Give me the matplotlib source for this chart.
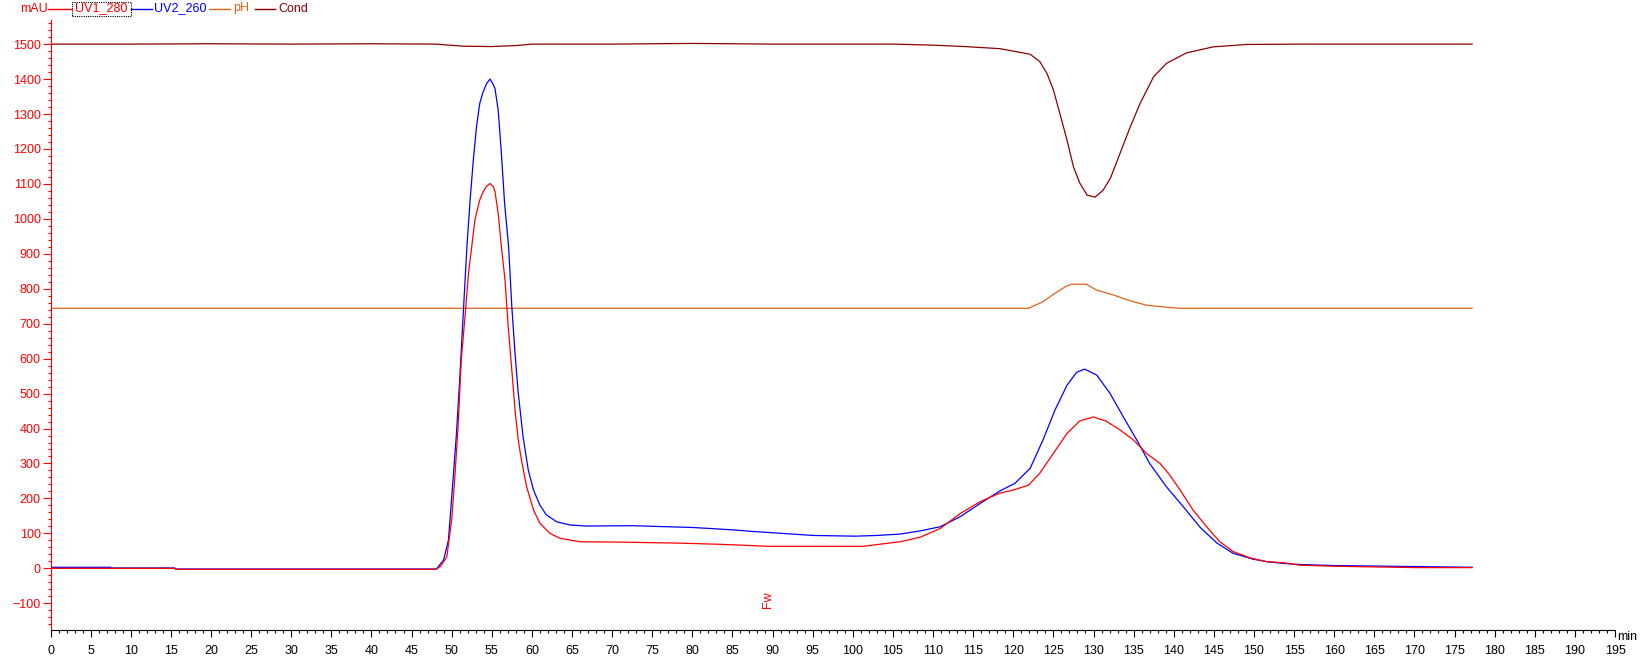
import numpy as np
import matplotlib
matplotlib.use("Agg")
import matplotlib.pyplot as plt
from matplotlib.ticker import MultipleLocator
from matplotlib.lines import Line2D
from matplotlib.patches import Rectangle

plt.rcParams['font.family'] = ['Liberation Sans', 'DejaVu Sans']
plt.rcParams['font.size'] = 9

# UV1_280 (red)
uv1_t = [0, 0.7, 15.5, 15.6, 48.0, 48.6, 49.4, 50.0, 50.4, 50.8, 51.2, 51.7, 52.1, 52.5, 52.9,
         53.5, 53.9, 54.37, 54.8, 55.2, 55.4, 55.8, 56.2, 56.65, 57.05, 57.5, 57.9, 58.3, 58.7,
         59.35, 60.2, 61.0, 62.25, 63.5, 66.0, 71, 78.5, 83.0, 86.4, 89.3, 101.3, 103.4, 105.9,
         108.4, 110.9, 113.4, 115.9, 118.3, 120.0, 121.9, 123.3, 125.0, 126.7, 128.3, 130.0,
         131.6, 133.3, 135.0, 136.6, 138.3, 139.5, 140.8, 142.4, 144.1, 145.75, 147.4, 149.5,
         151.6, 153.7, 155.7, 159.9, 165, 170.3, 177.2]
uv1_v = [0, 0, 0, -3, -3, 5, 33, 138, 262, 405, 596, 730, 844, 920, 997,
         1054, 1076, 1094, 1101, 1092, 1078, 1016, 920, 825, 691, 567, 453, 367, 310,
         233, 167, 129, 100, 86, 76, 75, 72, 69, 66, 63, 63, 69, 76,
         89, 114, 157, 191, 215, 224, 238, 272, 329, 386, 422, 433,
         421, 396, 367, 329, 300, 267, 224, 167, 119, 76, 48, 30,
         19, 16, 9, 6, 4, 2, 2]

# UV2_260 (blue)
uv2_t = [0, 0.3, 7.5, 7.6, 15.5, 15.6, 48.1, 49.0, 49.6, 50.2, 50.6, 51.0, 51.45, 51.9, 52.3,
         52.7, 53.1, 53.5, 53.9, 54.37, 54.8, 55.2, 55.4, 55.8, 56.2, 56.6, 57.1, 57.5, 57.9,
         58.3, 58.9, 59.55, 60.2, 61.0, 61.8, 63.1, 64.75, 66.8, 72.6, 75.3, 79.9, 82.2, 85.7,
         87.2, 90.5, 95.1, 100.3, 103.0, 105.9, 108.4, 110.9, 113.4, 115.9, 118.3, 120.2, 122.1,
         123.7, 125.2, 126.7, 127.9, 128.9, 130.4, 132.05, 133.7, 135.4, 137.0, 139.1, 141.2,
         143.3, 145.4, 147.4, 149.9, 151.6, 153.7, 155.7, 159.9, 170.3, 177.2]
uv2_v = [1, 3, 3, 1, 1, -2, -2, 24, 81, 262, 386, 539, 730, 920, 1054,
         1168, 1264, 1330, 1362, 1388, 1400, 1383, 1373, 1311, 1187, 1044, 920, 748, 615,
         501, 377, 281, 224, 181, 153, 133, 124, 121, 122, 120, 117, 114, 109,
         106, 101, 94, 92, 94, 98, 107, 119, 148, 186, 221, 243, 286,
         367, 453, 524, 561, 570, 553, 501, 434, 367, 300, 233, 176,
         117, 72, 43, 26, 19, 14, 11, 8, 5, 3]

# pH (orange)
ph_t = [0, 121.9, 123.7, 125.2, 126.5, 127.3, 129.1, 130.4, 132.5, 134.5, 136.6, 138.7, 140.8, 177.2]
ph_v = [744, 744, 763, 787, 806, 813, 813, 796, 782, 766, 753, 748, 744, 744]

# Cond (dark red)
cond_t = [0, 10, 20, 30, 40, 48, 51.5, 55, 58.1, 60, 70, 80, 90, 100, 105, 110, 114, 118.3,
          120, 122.1, 123.3, 124.2, 125.0, 125.8, 126.7, 127.5, 128.3, 129.2, 130.2, 131.2,
          132.1, 133.3, 134.6, 135.8, 137.5, 139.1, 141.6, 144.9, 149.1, 155.7, 165, 177.2]
cond_v = [1500, 1500, 1501, 1500, 1501, 1500, 1494, 1493, 1496, 1500, 1500, 1502, 1500, 1500,
          1500, 1497, 1493, 1487, 1480, 1471, 1450, 1416, 1369, 1302, 1225, 1149, 1102, 1068,
          1062, 1082, 1116, 1187, 1264, 1330, 1407, 1445, 1475, 1492, 1499, 1500, 1500, 1500]

red = '#ff0000'
blue = '#0000ff'
orange = '#dc6418'
darkred = '#8b0000'

W, H = 1645, 660
fig = plt.figure(figsize=(W / 100, H / 100), dpi=100)
ax = fig.add_axes([50.5 / W, 1 - 630 / H, (1615 - 50.5) / W, (630 - 20) / H])

lw = 0.9
ax.plot(cond_t, cond_v, color=darkred, lw=lw)
ax.plot(ph_t, ph_v, color=orange, lw=lw)
ax.plot(uv2_t, uv2_v, color=blue, lw=lw)
ax.plot(uv1_t, uv1_v, color=red, lw=lw)

ax.set_xlim(0, 195)
ax.set_ylim(-176.5, 1569)

for s in ['top', 'right']:
    ax.spines[s].set_visible(False)
ax.spines['left'].set_color(red)
ax.spines['left'].set_linewidth(0.8)
ax.spines['bottom'].set_color('black')
ax.spines['bottom'].set_linewidth(0.8)

ax.set_yticks(np.arange(-100, 1600, 100))
ax.yaxis.set_minor_locator(MultipleLocator(20))
ax.set_xticks(np.arange(0, 200, 5))
ax.xaxis.set_minor_locator(MultipleLocator(1))
ax.tick_params(axis='y', which='major', colors=red, length=6, width=0.8, pad=1, labelsize=9)
ax.tick_params(axis='y', which='minor', colors=red, length=2.5, width=0.8)
ax.tick_params(axis='x', which='major', colors='black', length=5, width=0.8, pad=6, labelsize=9)
ax.tick_params(axis='x', which='minor', colors='black', length=2.5, width=0.8)

ax.text(89.4, -90, 'Fw', rotation=90, color=red, ha='center', va='center', fontsize=9)


def fx(px):
    return px / W


def fy(py):
    return 1 - py / H


# header legend
yc = 8.5
fig.text(fx(20.5), fy(yc), 'mAU', color=red, ha='left', va='center', fontsize=9)
legend_items = [
    (48, 72, 75, 'UV1_280', red),
    (131, 152, 154, 'UV2_260', blue),
    (209, 230, 233, 'pH', orange),
    (255, 275, 278, 'Cond', darkred),
]
for x0, x1, tx, label, col in legend_items:
    fig.add_artist(Line2D([fx(x0), fx(x1)], [fy(yc), fy(yc)], color=col, lw=1.0,
                          transform=fig.transFigure))
    fig.text(fx(tx), fy(yc), label, color=col, ha='left', va='center', fontsize=9)
fig.add_artist(Rectangle((fx(72), fy(16)), fx(130.5) - fx(72), fy(2.5) - fy(16),
                         fill=False, ec='black', lw=0.8, ls=(0, (1, 1)),
                         transform=fig.transFigure))

fig.text(fx(1617), fy(637), 'min', color='black', ha='left', va='center', fontsize=9)

fig.savefig('out.png', dpi=100)
